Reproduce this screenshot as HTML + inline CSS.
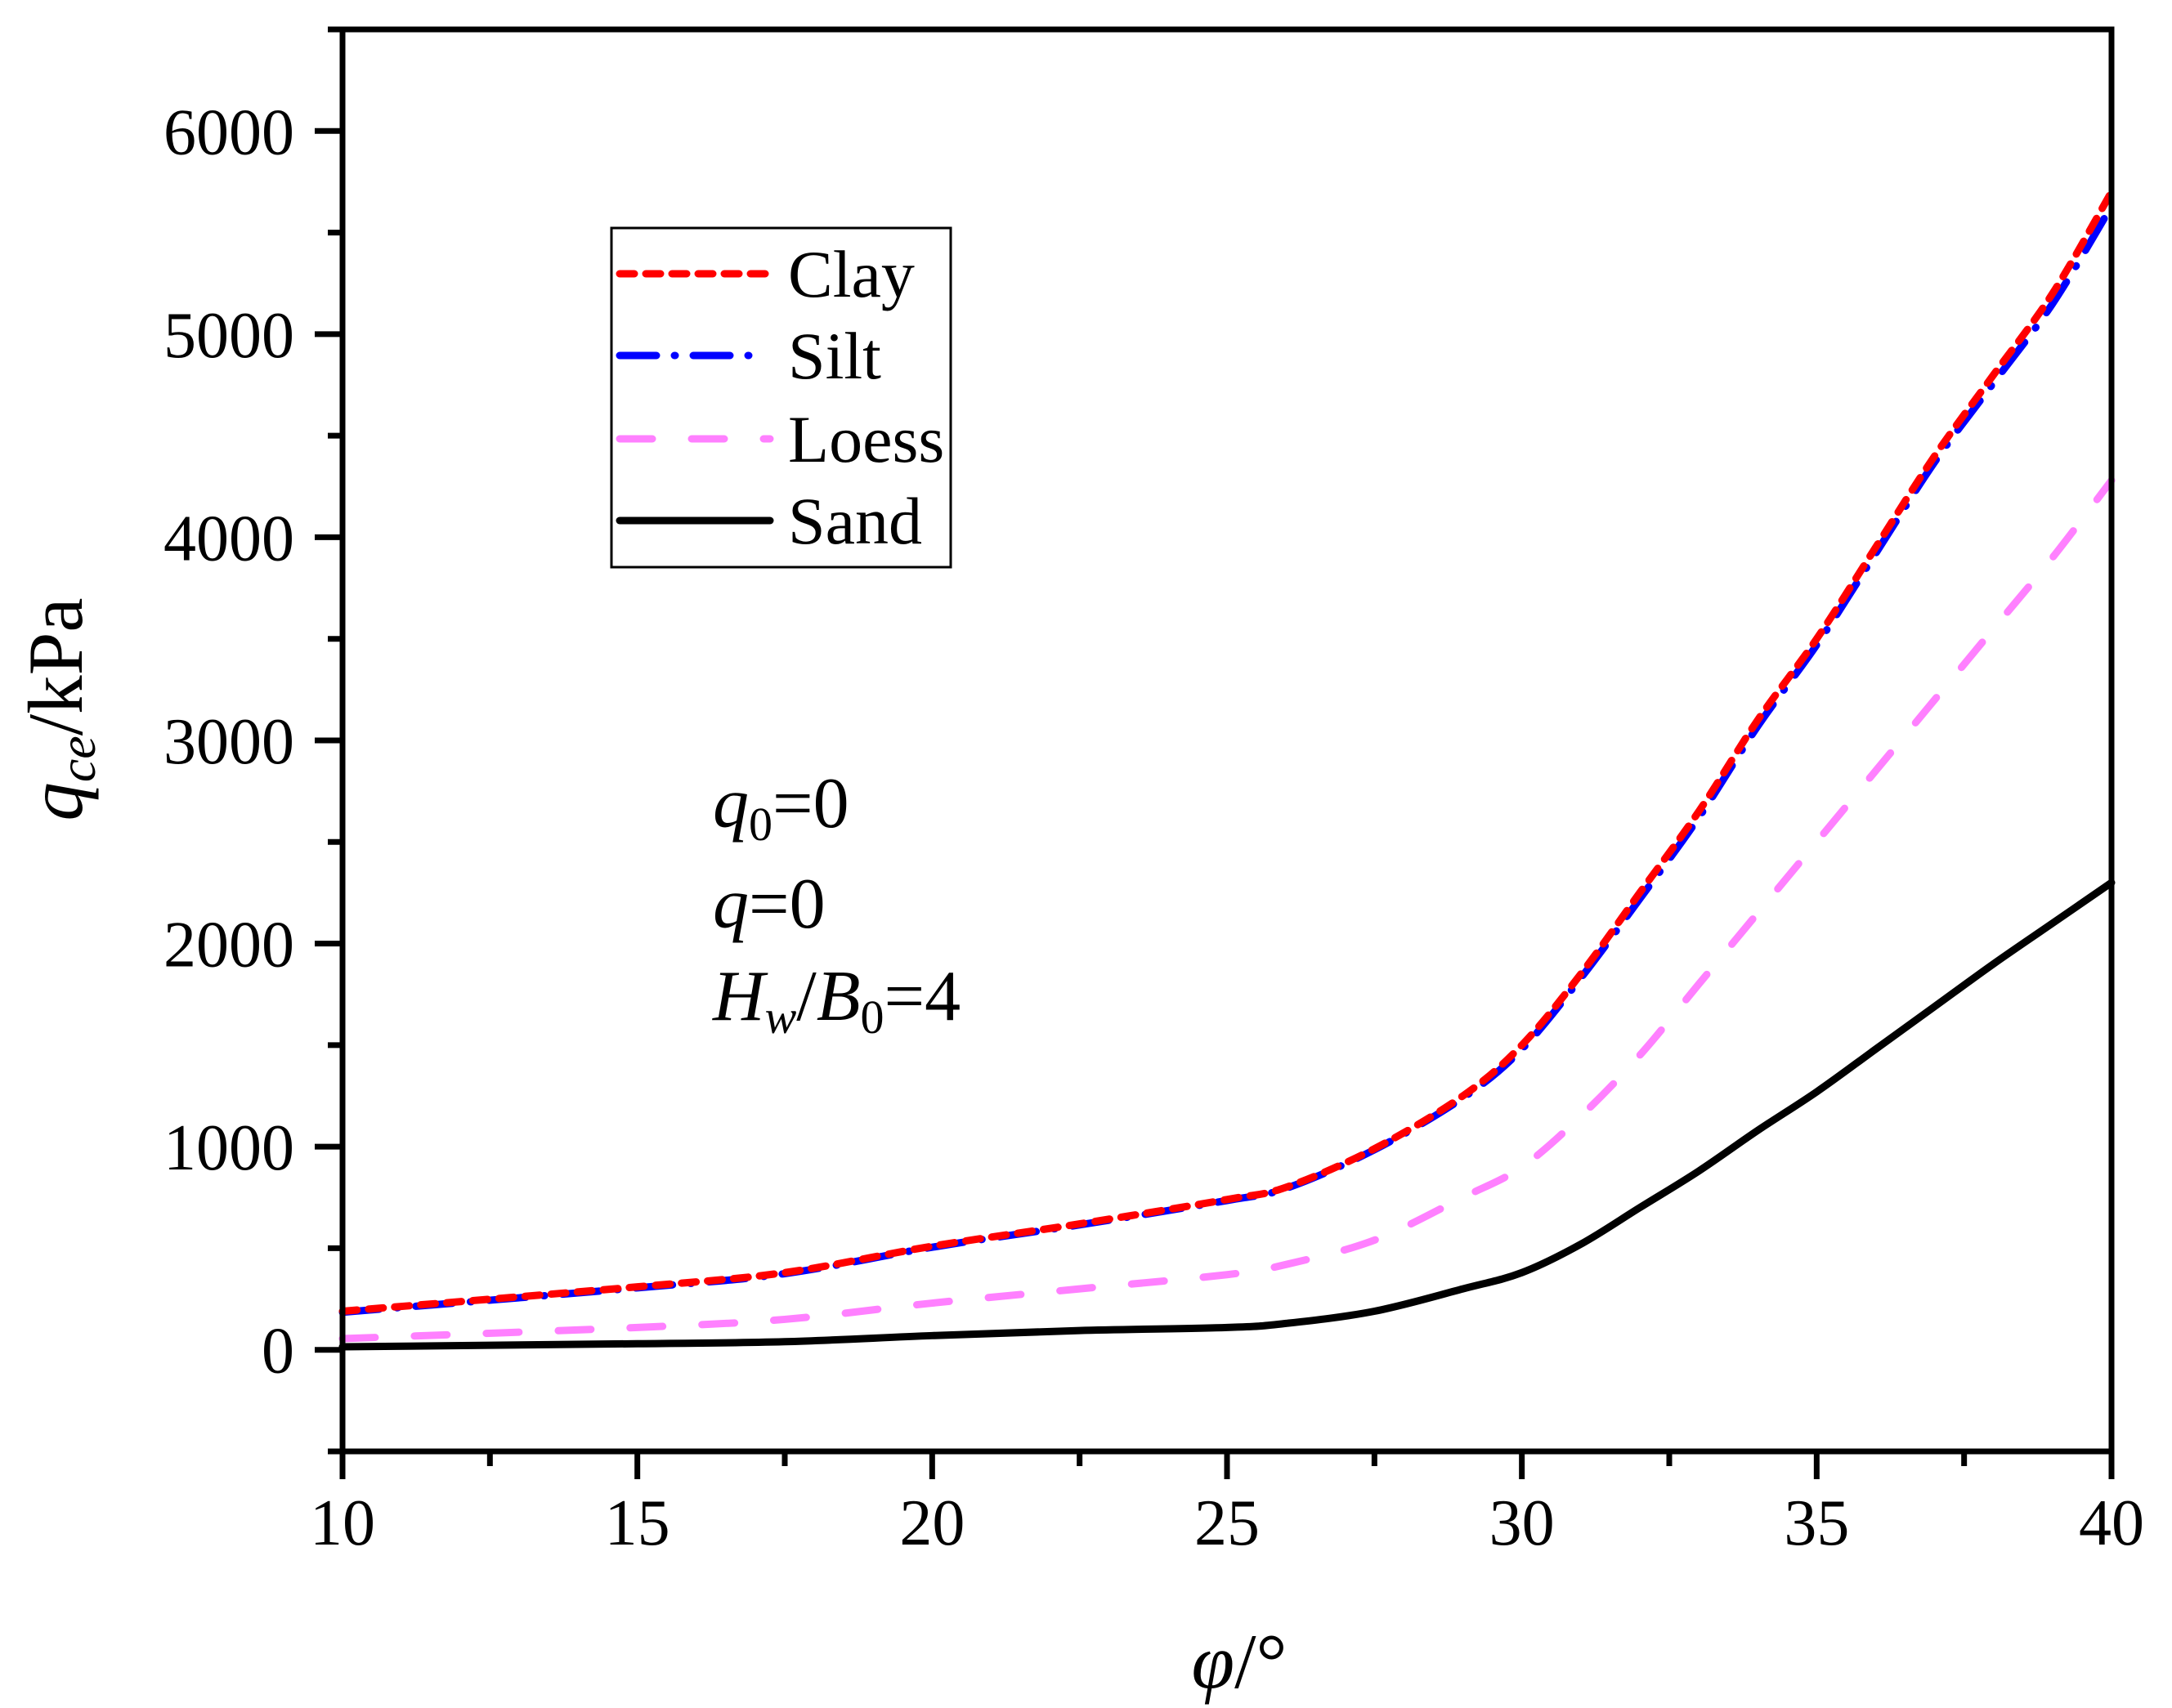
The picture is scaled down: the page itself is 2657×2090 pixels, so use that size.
<!DOCTYPE html>
<html><head><meta charset="utf-8"><style>
body{margin:0;background:#fff}
svg{display:block;font-family:"Liberation Serif",serif}
</style></head><body>
<svg id="chart" width="2657" height="2090" viewBox="0 0 2657 2090">
<g id="plot"></g>
<g id="axes"></g>
<g>
<rect x="748" y="279" width="415" height="415" fill="#fff" stroke="#000" stroke-width="3"/>
<line x1="758" y1="335" x2="938" y2="335" stroke="#f00" stroke-width="9" stroke-dasharray="18 14" stroke-linecap="round"/>
<text x="964" y="363" font-size="82">Clay</text>
<line x1="758" y1="435" x2="938" y2="435" stroke="#00f" stroke-width="9" stroke-dasharray="45 22 1 22" stroke-linecap="round"/>
<text x="964" y="463" font-size="82">Silt</text>
<line x1="758" y1="537" x2="942" y2="537" stroke="#ff80ff" stroke-width="9" stroke-dasharray="40 48" stroke-linecap="round"/>
<text x="964" y="565" font-size="82">Loess</text>
<line x1="758" y1="637" x2="942" y2="637" stroke="#000" stroke-width="9" stroke-linecap="round"/>
<text x="964" y="665" font-size="82">Sand</text>
</g>
<g font-size="88" font-style="italic">
<text x="872" y="1012">q<tspan font-size="58" font-style="normal" dy="16">0</tspan><tspan font-style="normal" dy="-16">=0</tspan></text>
<text x="872" y="1135">q<tspan font-style="normal">=0</tspan></text>
<text x="872" y="1248">H<tspan font-size="58" dy="16">w</tspan><tspan font-style="normal" dy="-16">/</tspan>B<tspan font-size="58" font-style="normal" dy="16">0</tspan><tspan font-style="normal" dy="-16">=4</tspan></text>
</g>
<text transform="translate(100,868) rotate(-90)" text-anchor="middle" font-size="95"><tspan font-style="italic">q</tspan><tspan font-style="italic" font-size="64" dy="16">ce</tspan><tspan dy="-16">/kPa</tspan></text>
<text x="1516" y="2065" text-anchor="middle" font-size="95"><tspan font-style="italic">φ</tspan>/°</text>
</svg>
<script>
const xVals=[10,15,17.5,20,22.5,25,26,27.5,29,30,31,32,33,34,35,36,37,38,39,40];
const clay=[190,310,380,510,620,740,800,990,1250,1500,1850,2250,2650,3100,3500,3950,4400,4800,5200,5700];
const silt=[185,305,375,505,615,735,795,985,1240,1480,1830,2220,2620,3070,3470,3920,4370,4760,5150,5630];
const loess=[55,110,150,230,300,370,420,540,750,900,1150,1450,1800,2150,2500,2850,3200,3550,3900,4280];
const sand=[15,30,40,70,95,110,130,190,300,380,520,700,880,1080,1270,1480,1690,1900,2100,2300];
const xTicks=[10,15,20,25,30,35,40];
const yTicks=[0,1000,2000,3000,4000,5000,6000];
const L=419,R=2583,T=36,B=1776,X0=10,X1=40,Y0=-500,Y1=6500;
const sx=v=>L+(v-X0)/(X1-X0)*(R-L);
const sy=v=>B-(v-Y0)/(Y1-Y0)*(B-T);
const NS='http://www.w3.org/2000/svg';
const plot=document.getElementById('plot'),axes=document.getElementById('axes');
function mk(tag,at,parent){const e=document.createElementNS(NS,tag);for(const k in at)e.setAttribute(k,at[k]);parent.appendChild(e);return e;}
function path(ys){let p=xVals.map((x,i)=>[sx(x),sy(ys[i])]);let d='M'+p[0][0]+','+p[0][1];
for(let i=0;i<p.length-1;i++){const p0=p[i-1]||p[i],p1=p[i],p2=p[i+1],p3=p[i+2]||p2;
d+=' C'+(p1[0]+(p2[0]-p0[0])/6)+','+(p1[1]+(p2[1]-p0[1])/6)+' '+(p2[0]-(p3[0]-p1[0])/6)+','+(p2[1]-(p3[1]-p1[1])/6)+' '+p2[0]+','+p2[1];}return d;}
const series=[[sand,'#000','none','series-sand'],[loess,'#ff80ff','40 48','series-loess'],[silt,'#00f','45 22 1 22','series-silt'],[clay,'#f00','18 14','series-clay']];
series.forEach(s=>{const e=mk('path',{d:path(s[0]),fill:'none',stroke:s[1],'stroke-width':9,'stroke-dasharray':s[2],'stroke-linecap':'round'},plot);

});
const fr=mk('rect',{x:L,y:T,width:R-L,height:B-T,fill:'none',stroke:'#000','stroke-width':7},axes);


for(let v=10;v<=40;v+=2.5){const major=v%5===0;const t=mk('line',{x1:sx(v),x2:sx(v),y1:B,y2:B+(major?34:18),stroke:'#000','stroke-width':7},axes);

}
xTicks.forEach(v=>{const t=mk('text',{x:sx(v),y:1890,'text-anchor':'middle','font-size':80},axes);t.textContent=v;

});
for(let v=-500;v<=6500;v+=500){const major=v%1000===0;const t=mk('line',{x1:L-(major?34:18),x2:L,y1:sy(v),y2:sy(v),stroke:'#000','stroke-width':7},axes);

}
yTicks.forEach(v=>{const t=mk('text',{x:360,y:sy(v)+28,'text-anchor':'end','font-size':80},axes);t.textContent=v;

});
</script>
</body></html>
